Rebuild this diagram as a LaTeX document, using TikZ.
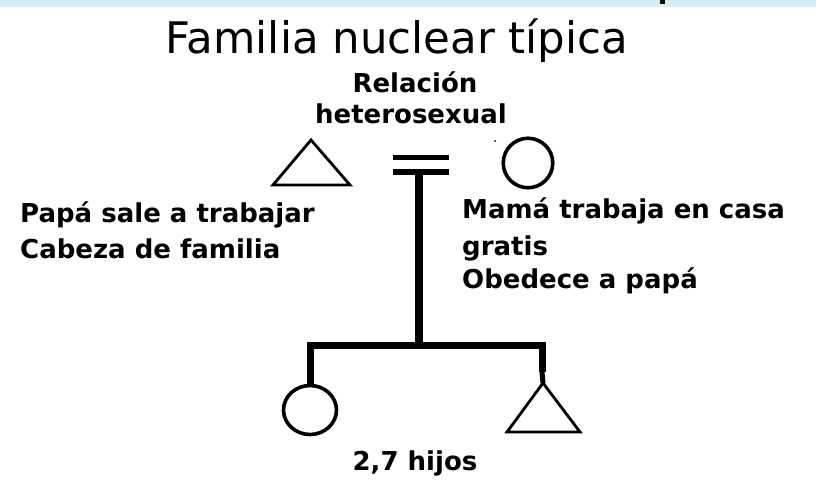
\documentclass[tikz,border=0pt]{standalone}
\usepackage{fontspec}
\usetikzlibrary{shapes.geometric}
\setmainfont{DejaVu Sans}
\definecolor{bandblue}{RGB}{212,240,246}
\tikzset{
  x=1pt, y=-1pt,
  titletxt/.style={font=\fontsize{43.5}{43.5}\selectfont, inner sep=0pt, anchor=base},
  bodytxt/.style={font=\bfseries\fontsize{26}{26}\selectfont, inner sep=0pt, anchor=base west},
  ctrtxt/.style={font=\bfseries\fontsize{26}{26}\selectfont, inner sep=0pt, anchor=base},
  symline/.style={line width=2.8pt, line join=miter},
  kinline/.style={line width=7pt, line join=miter},
  femcirc/.style={circle, draw, line width=3.6pt, minimum size=49.5pt, inner sep=0pt}
}
\begin{document}
\begin{tikzpicture}
\useasboundingbox (0,0) rectangle (816,485);
\fill[white] (0,0) rectangle (816,485);
\fill[bandblue] (0,0) rectangle (816,6.5);
\fill[black] (660,0) rectangle (665,3.5);
% texts
\node[titletxt] (title) at (397,53) {Familia nuclear típica};
\node[ctrtxt] (rel1) at (415,92) {Relación};
\node[ctrtxt] (rel2) at (411,123) {heterosexual};
\node[bodytxt] (pa1) at (20,222) {Papá sale a trabajar};
\node[bodytxt] (pa2) at (20,258) {Cabeza de familia};
\node[bodytxt] (ma1) at (462,218) {Mamá trabaja en casa};
\node[bodytxt] (ma2) at (462,255) {gratis};
\node[bodytxt] (ma3) at (462,288) {Obedece a papá};
\node[ctrtxt] (hijos) at (415,470) {2,7 hijos};
% father triangle
\coordinate (fapex) at (311,140);
\draw[symline] (fapex) -- (350,185) -- (273,185) -- cycle;
% mother circle
\node[femcirc] (mother) at (528,163) {};
\fill (495,141) circle (1pt);
% marriage bars
\draw[line width=5.5pt] (393,157.5) -- (449,157.5);
\draw[line width=6pt] (393,172) -- (449,172);
\coordinate (mar) at (419,172);
\coordinate (sib) at (419,345.5);
\draw[line width=7.5pt] (mar) -- (sib);
% children
\node[femcirc, ellipse, minimum width=53pt, minimum height=49pt] (daughter) at (310,410) {};
\coordinate (sapex) at (543,383);
\draw[symline] (sapex) -- (580,432) -- (507,432) -- cycle;
\coordinate (sleg) at (542,372);
\draw[kinline] (daughter.north) |- (sib) -| (sleg);
\draw[line width=5pt] (sleg) -- (sapex);
\end{tikzpicture}
\end{document}
